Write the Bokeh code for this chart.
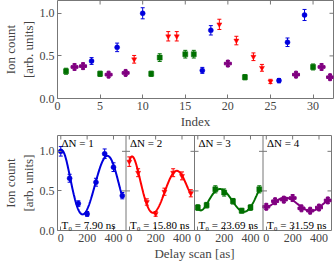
import numpy as np
from bokeh.plotting import figure
from bokeh.models import (ColumnDataSource, Whisker, TeeHead, FixedTicker,
                          Span, Label, Title, Range1d)
from bokeh.layouts import column
from bokeh.embed import file_html
from bokeh.resources import INLINE

# ---------------- data ----------------
index = list(range(1, 33))
ion_count = [0.32, 0.37, 0.38, 0.44, 0.29, 0.28, 0.60, 0.30, 0.46, 1.00, 0.29, 0.48,
             0.73, 0.73, 0.52, 0.52, 0.33, 0.80, 0.87, 0.41, 0.68, 0.25, 0.49, 0.36,
             0.20, 0.21, 0.66, 0.28, 0.98, 0.37, 0.37, 0.25]
ion_err = [0.035, 0.035, 0.035, 0.04, 0.03, 0.03, 0.05, 0.03, 0.045, 0.065, 0.03, 0.045,
           0.055, 0.055, 0.045, 0.045, 0.035, 0.055, 0.06, 0.035, 0.05, 0.03, 0.045, 0.04,
           0.025, 0.025, 0.05, 0.03, 0.065, 0.035, 0.035, 0.03]
delta_n = [3, 4, 4, 1, 3, 4, 1, 4, 2, 1, 3, 3, 2, 2, 3, 3, 1, 1, 2, 4, 2, 3, 2, 2,
           2, 1, 1, 4, 1, 3, 4, 4]

delay = [0, 67, 133, 200, 267, 333, 400, 467]
dn1_counts = [1.00, 0.66, 0.34, 0.21, 0.61, 0.97, 0.80, 0.44]
dn2_counts = [0.87, 0.73, 0.36, 0.21, 0.49, 0.73, 0.69, 0.47]
dn3_counts = [0.29, 0.32, 0.52, 0.48, 0.37, 0.25, 0.29, 0.52]
dn4_counts = [0.30, 0.37, 0.39, 0.41, 0.28, 0.25, 0.29, 0.38]
dn1_err = [0.06, 0.05, 0.035, 0.03, 0.05, 0.06, 0.055, 0.04]
dn2_err = [0.06, 0.05, 0.04, 0.03, 0.045, 0.05, 0.05, 0.045]
dn3_err = [0.035, 0.035, 0.045, 0.045, 0.035, 0.03, 0.035, 0.045]
dn4_err = [0.035, 0.035, 0.035, 0.04, 0.03, 0.03, 0.03, 0.035]
t0_labels = ["7.90", "15.80", "23.69", "31.59"]

top_xticks = [0, 5, 10, 15, 20, 25, 30]
y_ticks = [0, 0.5, 1.0]
delay_ticks = [0, 200, 400]

colors = {1: "#0000dd", 2: "#ff0000", 3: "#007000", 4: "#800080"}
markers = {1: "circle", 2: "inverted_triangle", 3: "square", 4: "plus"}
msizes = {1: 5, 2: 5, 3: 5, 4: 7}

FONT = "Liberation Serif"
FRAME_COL = "#777777"
TICK_PX = 4


def style_axes(p):
    for ax in p.axis:
        ax.axis_line_color = None
        ax.major_tick_in = TICK_PX
        ax.major_tick_out = 0
        ax.minor_tick_line_color = None
        ax.major_tick_line_color = FRAME_COL
        ax.major_label_text_font = FONT
        ax.major_label_text_font_size = "12px"
        ax.major_label_standoff = 3
        ax.axis_label_text_font = FONT
        ax.axis_label_text_font_style = "normal"
        ax.axis_label_text_font_size = "13px"
        ax.axis_label_standoff = 1
    p.grid.visible = False
    p.outline_line_color = FRAME_COL
    p.outline_line_width = 1


def add_ylabel(p):
    p.yaxis[0].axis_label = "[arb. units]"
    t = Title(text="Ion count", align="center", text_font=FONT, text_font_style="normal",
              text_font_size="13px", standoff=0, offset=0)
    p.add_layout(t, "left")


def errorbars(p, x, y, e, color):
    src = ColumnDataSource(dict(x=x, lo=[a - b for a, b in zip(y, e)],
                                hi=[a + b for a, b in zip(y, e)]))
    w = Whisker(source=src, base="x", lower="lo", upper="hi", line_color=color, line_width=1,
                upper_head=TeeHead(size=4, line_color=color, line_width=1),
                lower_head=TeeHead(size=4, line_color=color, line_width=1))
    p.add_layout(w)


def inner_ticks(p, xs_top, y_top, dy, ys_side, x_edges_dirs, dx):
    """Mirror (inward) tick marks on the top edge and on vertical panel edges."""
    x0 = list(xs_top); x1 = list(xs_top)
    y0 = [y_top] * len(xs_top); y1 = [y_top - dy] * len(xs_top)
    for xe, d in x_edges_dirs:
        for yv in ys_side:
            x0.append(xe); x1.append(xe + d * dx); y0.append(yv); y1.append(yv)
    p.segment(x0=x0, y0=y0, x1=x1, y1=y1, line_color=FRAME_COL, line_width=1)


# ---------------- top panel ----------------
TOP_FW, TOP_FH = 276, 98
TOP_X = (0, 32.4)
TOP_Y = (0, 1.15)
top = figure(frame_width=TOP_FW, frame_height=TOP_FH, output_backend="svg",
             toolbar_location=None, x_range=Range1d(*TOP_X), y_range=Range1d(*TOP_Y),
             min_border_left=10, min_border_right=6, min_border_top=0, min_border_bottom=0)
top.xaxis.ticker = FixedTicker(ticks=top_xticks)
top.yaxis.ticker = FixedTicker(ticks=y_ticks)
top.yaxis.major_label_overrides = {0: "0.0", 0.5: "0.5", 1: "1.0"}
top.xaxis.axis_label = "Index"
add_ylabel(top)
style_axes(top)
inner_ticks(top, top_xticks[1:], TOP_Y[1], TICK_PX * (TOP_Y[1] - TOP_Y[0]) / TOP_FH,
            y_ticks[1:], [(TOP_X[1], -1)], TICK_PX * (TOP_X[1] - TOP_X[0]) / TOP_FW)

for g in (1, 2, 3, 4):
    xs = [i for i, d in zip(index, delta_n) if d == g]
    ys = [v for v, d in zip(ion_count, delta_n) if d == g]
    es = [v for v, d in zip(ion_err, delta_n) if d == g]
    errorbars(top, xs, ys, es, colors[g])
    top.scatter(xs, ys, marker=markers[g], size=msizes[g], fill_color=colors[g],
                line_color=colors[g], line_width=1 if g == 4 else 0.5)

# ---------------- bottom panels (one figure, four side-by-side panels) ----------------
PANEL = 520
XMIN = -25
XMAX = 495
BOT_FW, BOT_FH = 274, 95
BOT_X = (XMIN, 3 * PANEL + XMAX)
BOT_Y = (0, 1.2)
bot = figure(frame_width=BOT_FW, frame_height=BOT_FH, output_backend="svg",
             toolbar_location=None, x_range=Range1d(*BOT_X), y_range=Range1d(*BOT_Y),
             min_border_left=10, min_border_right=8, min_border_top=4, min_border_bottom=0)
ticks = []
overrides = {}
for k in range(4):
    for t in delay_ticks:
        ticks.append(k * PANEL + t)
        overrides[k * PANEL + t] = str(t)
bot.xaxis.ticker = FixedTicker(ticks=ticks)
bot.xaxis.major_label_overrides = overrides
bot.yaxis.ticker = FixedTicker(ticks=y_ticks)
bot.yaxis.major_label_overrides = {0: "0.0", 0.5: "0.5", 1: "1.0"}
bot.xaxis.axis_label = "Delay scan [as]"
add_ylabel(bot)
style_axes(bot)
bdx = TICK_PX * (BOT_X[1] - BOT_X[0]) / BOT_FW
bdy = TICK_PX * (BOT_Y[1] - BOT_Y[0]) / BOT_FH
edges = []
for k in range(4):
    edges.append((k * PANEL + XMAX, -1))
    if k < 3:
        edges.append((k * PANEL + XMAX, 1))
inner_ticks(bot, ticks, BOT_Y[1], bdy, y_ticks[1:], edges, bdx)

counts_all = [dn1_counts, dn2_counts, dn3_counts, dn4_counts]
errs_all = [dn1_err, dn2_err, dn3_err, dn4_err]


def smooth_fit(t, y, deg=5):
    t = np.asarray(t, float)
    y = np.asarray(y, float)
    s = t.max()
    coef = np.polyfit(t / s, y, deg)
    return lambda tt: np.polyval(coef, np.asarray(tt) / s)


for k in range(4):
    g = k + 1
    off = k * PANEL
    xs = [d + off for d in delay]
    ys = counts_all[k]
    f = smooth_fit(delay, ys)
    tt = np.linspace(delay[0], delay[-1], 200)
    bot.line(tt + off, f(tt), line_color=colors[g], line_width=2)
    errorbars(bot, xs, ys, errs_all[k], colors[g])
    bot.scatter(xs, ys, marker=markers[g], size=msizes[g], fill_color=colors[g],
                line_color=colors[g], line_width=1 if g == 4 else 0.5)
    if k < 3:
        bot.add_layout(Span(location=off + XMAX, dimension="height", line_color=FRAME_COL,
                            line_width=1))
    bot.add_layout(Label(x=off + XMIN, y=BOT_Y[1], x_offset=4, y_offset=-1,
                         text=f"\u0394N = {g}", text_baseline="top", text_font=FONT,
                         text_font_size="11px", text_color="black"))
    bot.add_layout(Label(x=off + XMIN, y=BOT_Y[0], x_offset=4, y_offset=0,
                         text=f"T\u2080 = {t0_labels[k]} ns",
                         text_baseline="bottom", text_font=FONT, text_font_size="11px",
                         text_color="black"))

layout = column(top, bot)
open("out.html", "w").write(file_html(layout, INLINE))
